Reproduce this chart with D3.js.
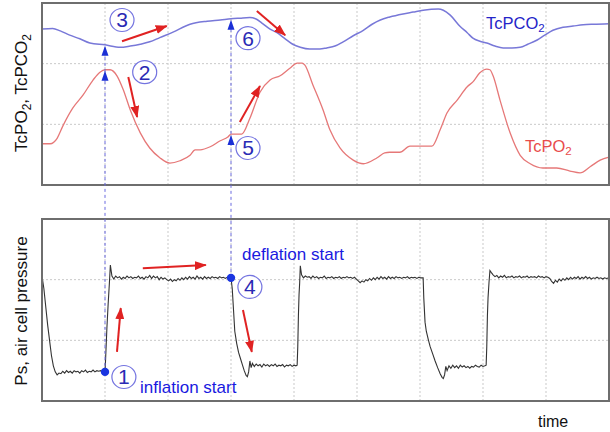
<!DOCTYPE html>
<html><head><meta charset="utf-8">
<script src="https://cdn.jsdelivr.net/npm/d3@7"></script>
<style>html,body{margin:0;padding:0;background:#fff;} svg{display:block;font-family:Arial,"Liberation Sans",sans-serif;}</style>
</head><body><svg id="c" width="610" height="432"></svg>
<script>
// ---- data (time units 0..90, arbitrary level units 0..30) ----
const timeTicks = [10, 20, 30, 40, 50, 60, 70, 80];
const levelTicks = [10, 20];

const tcpco2 = [[0,25.7],[1.7,25.8],[2.9,25.4],[4.4,24.7],[6.0,24.1],[7.6,23.4],[10.0,23.1],[12.4,22.7],[14.0,22.9],[15.6,23.2],[17.1,23.6],[18.7,24.3],[20.8,25.2],[23.5,26.5],[26.2,27.0],[28.3,27.2],[30.0,27.4],[31.4,27.5],[33.0,27.6],[33.9,27.4],[34.9,26.7],[36.2,25.7],[37.3,25.1],[38.6,24.1],[39.8,23.2],[41.0,22.7],[42.5,22.4],[44.1,22.4],[45.2,22.6],[46.5,22.9],[47.8,23.6],[49.4,24.6],[51.0,25.5],[52.4,26.5],[53.7,27.2],[55.2,27.7],[57.3,28.2],[58.9,28.5],[60.5,28.8],[62.9,29.0],[63.7,28.8],[64.8,28.0],[66.3,26.2],[67.5,25.1],[68.4,24.2],[69.5,23.7],[70.6,23.4],[71.9,22.9],[73.2,22.6],[74.6,22.6],[75.9,22.7],[77.1,23.2],[78.6,23.9],[79.8,24.7],[81.1,25.5],[82.7,26.0],[84.3,26.2],[85.9,26.4],[87.5,26.5],[90.0,26.6]];

const tcpo2 = [[0,6.8],[1.3,6.8],[2.4,7.7],[3.3,9.7],[4.9,12.7],[6.5,14.8],[8.1,17.3],[9.2,18.6],[10.0,19.0],[10.8,19.0],[11.9,18.0],[12.9,15.7],[14.0,12.4],[15.6,8.6],[17.1,6.1],[18.7,4.5],[20.3,3.6],[21.9,4.0],[23.5,4.9],[24.3,5.8],[25.1,5.8],[26.7,6.3],[28.3,7.3],[29.5,7.9],[30.0,8.4],[31.7,8.4],[33.0,11.0],[34.6,15.3],[36.2,17.3],[37.8,18.0],[39.4,19.3],[40.5,20.1],[41.3,20.1],[41.7,19.8],[43.0,16.5],[44.6,12.4],[45.7,9.1],[47.3,6.1],[49.4,4.1],[51.0,3.5],[53.2,4.5],[54.4,5.3],[55.2,5.4],[56.8,5.4],[58.4,6.4],[60.5,6.4],[61.9,6.4],[63.2,9.1],[64.3,11.9],[65.9,14.0],[67.5,16.2],[68.4,17.0],[69.5,18.5],[70.6,19.1],[71.1,19.0],[71.6,18.0],[72.7,14.0],[74.3,8.6],[75.9,4.9],[77.5,3.5],[79.5,2.8],[81.7,2.8],[83.8,2.3],[85.4,2.0],[87.0,3.0],[88.6,4.1],[90.0,4.6]];

const pressure = [[0,20.6],[0.3,18.5],[0.6,15.5],[0.9,12.5],[1.2,10],[1.5,7.5],[1.8,5.8],[2.1,4.8],[2.4,4.3],[2.7,4.6],
[3.0,4.5],[3.3,4.9],[3.6,4.6],[3.9,5.0],[4.2,4.7],[4.5,4.9],[4.8,4.6],[5.1,5.0],[5.4,4.8],[5.7,4.9],[6.0,4.6],[6.3,5.0],[6.6,4.8],[6.9,5.1],[7.2,4.7],[7.5,4.9],[7.8,4.8],[8.1,5.1],[8.4,4.8],[8.7,5.0],[9.0,4.9],[9.3,5.0],[9.6,4.8],[10.0,4.8],
[10.1,7],[10.3,12],[10.5,16],[10.7,19.5],[10.85,22.4],[11.1,20.6],[11.4,20.1],[11.7,20.6],[12.0,20.3],[12.3,20.5],[12.6,20.1],[12.9,20.4],[13.2,20.2],[13.5,20.6],[13.8,20.3],[14.1,20.5],[14.4,20.2],[14.7,20.4],[15.0,20.3],[15.3,20.6],[15.6,20.2],[15.9,20.4],[16.2,20.1],[16.5,20.5],[16.8,20.3],[17.1,20.7],[17.4,20.2],[17.7,20.6],[18.0,20.3],[18.3,20.5],[18.6,20.0],[18.9,20.4],[19.2,20.1],[19.5,20.3],[19.8,20.0],[20.1,19.8],[20.4,20.1],[20.7,19.7],[21.0,20.0],[21.3,19.8],[21.6,20.2],[21.9,19.9],[22.2,20.3],[22.5,20.0],[22.8,20.4],[23.1,20.1],[23.4,20.5],[23.7,20.2],[24.0,20.4],[24.3,20.1],[24.6,20.6],[24.9,20.2],[25.2,20.4],[25.5,20.1],[25.8,20.5],[26.1,20.2],[26.4,20.4],[26.7,20.2],[27.0,20.5],[27.3,20.3],[27.6,20.4],[27.9,20.2],[28.2,20.5],[28.5,20.3],[28.8,20.4],[29.1,20.2],[29.4,20.4],[29.7,20.3],[30.0,20.3],
[30.2,18.5],[30.4,15],[30.6,11.5],[30.9,9.5],[31.2,8],[31.5,7],[31.8,6],[32.1,5],[32.4,4.2],[32.6,4.0],[32.8,4.8],[33.0,6.6],[33.2,5.5],[33.4,6.2],[33.7,5.7],[34.0,6.1],[34.3,5.8],[34.6,6.0],[34.9,5.6],[35.2,6.1],[35.5,5.8],[35.8,6.0],[36.1,5.7],[36.4,6.0],[36.7,5.8],[37.0,6.1],[37.3,5.7],[37.6,5.9],[37.9,5.8],[38.2,6.0],[38.5,5.6],[38.8,5.9],[39.1,5.8],[39.4,6.0],[39.7,5.7],[40.0,5.9],[40.3,5.8],[40.5,5.9],
[40.6,9],[40.7,14],[40.8,17.5],[40.9,19.5],[41.0,22.3],[41.2,20.8],[41.5,20.3],[41.8,20.6],[42.1,20.4],[42.4,20.5],[42.7,20.2],[43.0,20.6],[43.3,20.3],[43.6,20.5],[43.9,20.2],[44.2,20.4],[44.5,20.3],[44.8,20.6],[45.1,20.2],[45.4,20.4],[45.7,20.3],[46.0,20.5],[46.3,20.2],[46.6,20.4],[46.9,20.3],[47.2,20.5],[47.5,20.2],[47.8,20.4],[48.1,20.3],[48.4,20.5],[48.7,20.3],[49.0,20.4],[49.3,20.2],[49.6,20.4],[49.9,20.1],[50.2,19.8],[50.5,19.5],[50.8,19.8],[51.1,19.6],[51.4,20.0],[51.7,19.8],[52.0,20.2],[52.3,19.9],[52.6,20.3],[52.9,20.0],[53.2,20.4],[53.5,20.1],[53.8,20.5],[54.1,20.2],[54.4,20.4],[54.7,20.1],[55.0,20.5],[55.3,20.2],[55.6,20.4],[55.9,20.2],[56.2,20.5],[56.5,20.3],[56.8,20.4],[57.1,20.2],[57.4,20.4],[57.7,20.3],[58.0,20.5],[58.3,20.2],[58.6,20.4],[58.9,20.3],[59.2,20.4],[59.5,20.2],[59.8,20.4],[60.1,20.3],[60.5,20.3],
[60.6,17],[60.8,13],[61.0,11.5],[61.3,10.2],[61.6,9],[62.0,7.8],[62.4,6.6],[62.8,5.5],[63.2,4.5],[63.5,3.9],[63.7,3.7],[63.9,4.3],[64.1,5.7],[64.3,5.0],[64.6,5.8],[64.9,5.4],[65.2,5.9],[65.5,5.5],[65.8,5.8],[66.1,5.4],[66.4,5.9],[66.7,5.6],[67.0,5.8],[67.3,5.5],[67.6,5.7],[67.9,5.4],[68.2,5.7],[68.5,5.6],[68.8,5.9],[69.1,5.7],[69.4,5.6],[69.7,5.9],[70.0,5.7],[70.3,5.8],[70.5,5.9],
[70.6,9],[70.7,14],[70.8,17],[70.95,19.5],[71.1,21.5],[71.3,21.2],[71.6,20.8],[71.9,20.5],[72.2,20.7],[72.5,20.3],[72.8,20.6],[73.1,20.4],[73.4,20.7],[73.7,20.3],[74.0,20.5],[74.3,20.4],[74.6,20.6],[74.9,20.3],[75.2,20.5],[75.5,20.4],[75.8,20.6],[76.1,20.3],[76.4,20.5],[76.7,20.4],[77.0,20.6],[77.3,20.3],[77.6,20.5],[77.9,20.4],[78.2,20.5],[78.5,20.3],[78.8,20.6],[79.1,20.4],[79.4,20.5],[79.7,20.3],[80.0,20.5],[80.3,20.4],[80.6,20.2],[80.9,19.7],[81.2,19.4],[81.5,19.9],[81.8,19.6],[82.1,20.1],[82.4,19.8],[82.7,20.2],[83.0,19.9],[83.3,20.3],[83.6,20.0],[83.9,20.4],[84.2,20.1],[84.5,20.4],[84.8,20.2],[85.1,20.5],[85.4,20.1],[85.7,20.4],[86.0,20.2],[86.3,20.5],[86.6,20.2],[86.9,20.4],[87.2,20.1],[87.5,20.3],[87.8,20.2],[88.1,20.4],[88.4,20.2],[88.7,20.3],[89.0,20.1],[89.3,20.3],[89.6,20.2],[90.0,20.3]];

// events: inflation start at t=10, deflation start at t=30
const events = [
  {t: 10, p: 4.8, o2: 19.0, co2: 23.1, label: "inflation start"},
  {t: 30, p: 20.3, o2: 8.4, co2: 27.4, label: "deflation start"}
];
// circled step numbers: [number, panel, t, v]
const steps = [["1","bot",13.0,3.96],["2","top",16.3,18.6],["3","top",12.7,27.2],["4","bot",33.0,18.8],["5","top",32.7,6.1],["6","top",32.7,24.2]];
// red trend arrows: [panel, t0, v0, t1, v1]
const trendArrows = [["top",12.7,23.7,19.8,26.2],["top",13.7,17.8,15.1,11.2],["top",34.1,28.7,38.6,24.7],["top",31.4,10.4,34.6,16.3],
  ["bot",11.9,8.1,12.5,15.3],["bot",16.0,21.9,26.0,22.4],["bot",31.9,15.0,33.3,8.1]];

// ---- drawing ----
const svg = d3.select("#c");
const x = d3.scaleLinear().domain([0, 90]).range([42, 609]);
const yTop = d3.scaleLinear().domain([0, 30]).range([185, 3]);
const yBot = d3.scaleLinear().domain([0, 30]).range([401, 219]);
const Y = {top: yTop, bot: yBot};

const defs = svg.append("defs");
defs.append("marker").attr("id","rh").attr("markerUnits","userSpaceOnUse")
  .attr("markerWidth",12).attr("markerHeight",9).attr("refX",11).attr("refY",4.5).attr("orient","auto")
  .append("path").attr("d","M0,0L12,4.5L0,9Z").attr("fill","#e02222");

function panel(y) {
  const g = svg.append("g");
  g.append("rect").attr("x",42).attr("y",y.range()[1]).attr("width",567).attr("height",y.range()[0]-y.range()[1]).attr("fill","#fff");
  g.selectAll(".vg").data(timeTicks).join("line")
    .attr("x1",d=>x(d)).attr("x2",d=>x(d)).attr("y1",y.range()[1]).attr("y2",y.range()[0])
    .attr("stroke","#c9c9c9").attr("stroke-dasharray","2,2").attr("stroke-width",1);
  g.selectAll(".hg").data(levelTicks).join("line")
    .attr("x1",42).attr("x2",609).attr("y1",d=>y(d)).attr("y2",d=>y(d))
    .attr("stroke","#c9c9c9").attr("stroke-dasharray","2,2").attr("stroke-width",1);
  return g;
}
const gTop = panel(yTop);
const gBot = panel(yBot);

// series
gTop.append("path").datum(tcpco2).attr("fill","none").attr("stroke","#7878d8").attr("stroke-width",1.5)
  .attr("d", d3.line().x(d=>x(d[0])).y(d=>yTop(d[1])).curve(d3.curveMonotoneX));
gTop.append("path").datum(tcpo2).attr("fill","none").attr("stroke","#e67878").attr("stroke-width",1.3)
  .attr("d", d3.line().x(d=>x(d[0])).y(d=>yTop(d[1])).curve(d3.curveMonotoneX));
gBot.append("path").datum(pressure).attr("fill","none").attr("stroke","#333").attr("stroke-width",1.1)
  .attr("d", d3.line().x(d=>x(d[0])).y(d=>yBot(d[1])));

// frames
[yTop, yBot].forEach(y => svg.append("rect").attr("x",42).attr("y",y.range()[1]).attr("width",567)
  .attr("height",y.range()[0]-y.range()[1]).attr("fill","none").attr("stroke","#6e6e6e").attr("stroke-width",2));

// event lines, dots, arrowheads
events.forEach(e => {
  const xe = x(e.t);
  svg.append("line").attr("x1",xe).attr("x2",xe).attr("y1",yBot(e.p)).attr("y2",yTop(e.co2)+4)
    .attr("stroke","#6b6be0").attr("stroke-width",1).attr("stroke-dasharray","3,3");
  [e.co2, e.o2].forEach(v => {
    const yy = yTop(v) + 1;
    svg.append("path").attr("d",`M${xe},${yy}L${xe-3.5},${yy+10}L${xe+3.5},${yy+10}Z`).attr("fill","#1a2fd6");
  });
  svg.append("circle").attr("cx",xe).attr("cy",yBot(e.p)).attr("r",4.2).attr("fill","#1a35e0");
});

// red arrows
trendArrows.forEach(a => {
  const y = Y[a[0]];
  svg.append("line").attr("x1",x(a[1])).attr("y1",y(a[2])).attr("x2",x(a[3])).attr("y2",y(a[4]))
    .attr("stroke","#e02222").attr("stroke-width",2).attr("marker-end","url(#rh)");
});

// circled numbers
steps.forEach(s => {
  const cx = x(s[2]), cy = Y[s[1]](s[3]);
  svg.append("ellipse").attr("cx",cx).attr("cy",cy).attr("rx",12).attr("ry",11.5).attr("fill","#fff")
    .attr("stroke","#7474e0").attr("stroke-width",1.2);
  svg.append("text").attr("x",cx).attr("y",cy+7.5).attr("text-anchor","middle").attr("font-size",21)
    .attr("fill","#2a2ab4").text(s[0]);
});

// event labels
svg.append("text").attr("x",140).attr("y",393).attr("font-size",17).attr("fill","#1a1ae0").text(events[0].label);
svg.append("text").attr("x",242).attr("y",260).attr("font-size",17).attr("fill","#1a1ae0").text(events[1].label);

// text with subscripts
function sub(sel, parts) {
  parts.forEach(p => {
    if (p.sub) sel.append("tspan").attr("font-size","0.7em").attr("dy","0.3em").text(p.t);
    else sel.append("tspan").attr("dy", p.back ? "-0.21em" : 0).text(p.t);
  });
}
const lc = svg.append("text").attr("x",486).attr("y",29).attr("font-size",16.5).attr("fill","#2424c8");
sub(lc, [{t:"TcPCO"},{t:"2",sub:true}]);
const lo = svg.append("text").attr("x",525).attr("y",152).attr("font-size",16.5).attr("fill","#e84c4c");
sub(lo, [{t:"TcPO"},{t:"2",sub:true}]);

const ya = svg.append("text").attr("transform","translate(27,93) rotate(-90)").attr("text-anchor","middle")
  .attr("font-size",17).attr("fill","#111");
sub(ya, [{t:"TcPO"},{t:"2",sub:true},{t:", TcPCO",back:true},{t:"2",sub:true}]);
svg.append("text").attr("transform","translate(27,311) rotate(-90)").attr("text-anchor","middle")
  .attr("font-size",17).attr("fill","#111").text("Ps, air cell pressure");
svg.append("text").attr("x",538).attr("y",427).attr("font-size",16).attr("fill","#111").text("time");
</script></body></html>
